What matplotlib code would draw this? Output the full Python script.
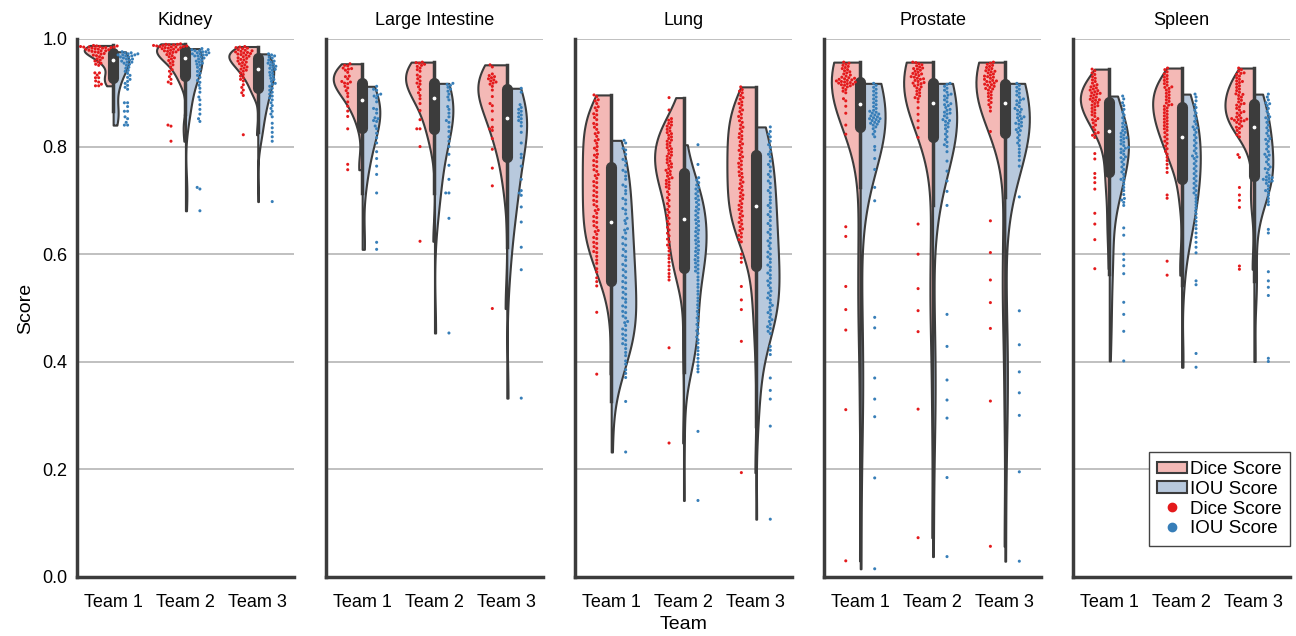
import numpy as np
import pandas as pd
import matplotlib
matplotlib.use("Agg")
import matplotlib.pyplot as plt
import seaborn as sns
from matplotlib.patches import Patch
from matplotlib.lines import Line2D

organs = ["Kidney", "Large Intestine", "Lung", "Prostate", "Spleen"]
teams = ["Team 1", "Team 2", "Team 3"]
metrics = ["Dice Score", "IOU Score"]

kidney = [
    [988, 987, 987, 986, 986, 985, 985, 985, 984, 984, 983, 983, 982, 981, 981, 980, 979, 978, 978, 977,
     976, 975, 973, 972, 970, 969, 967, 965, 963, 961, 959, 957, 955, 953, 951, 937, 937, 933, 928, 928,
     922, 920, 916, 913, 913],
    [991, 990, 990, 989, 989, 988, 988, 987, 987, 986, 986, 985, 985, 984, 984, 983, 982, 981, 980, 979,
     978, 977, 976, 975, 973, 971, 969, 967, 965, 963, 960, 958, 955, 952, 948, 943, 940, 935, 930, 925,
     920, 917, 840, 838, 810],
    [986, 985, 984, 983, 982, 980, 979, 978, 977, 976, 975, 974, 973, 972, 971, 970, 968, 967, 965, 964,
     962, 961, 959, 957, 956, 954, 952, 950, 948, 946, 944, 942, 940, 937, 934, 931, 928, 925, 922, 915,
     910, 905, 900, 895, 822],
]
large_intestine = [
    [954, 951, 950, 946, 945, 944, 942, 938, 931, 930, 926, 921, 920, 918, 917, 912, 909, 904, 899, 893,
     883, 875, 866, 856, 833, 767, 757],
    [957, 956, 955, 953, 951, 949, 946, 943, 940, 933, 930, 926, 922, 918, 916, 911, 906, 900, 895, 889,
     880, 867, 850, 833, 833, 800, 624],
    [952, 948, 935, 932, 930, 928, 926, 924, 922, 920, 918, 916, 912, 905, 893, 880, 876, 866, 850, 836,
     833, 830, 815, 795, 760, 727, 499],
]
lung = [
    [896, 893, 887, 885, 880, 874, 872, 867, 861, 859, 854, 850, 843, 841, 836, 832, 826, 824, 819, 813,
     811, 806, 800, 797, 793, 786, 784, 780, 774, 772, 765, 763, 757, 754, 748, 746, 741, 735, 733, 727,
     724, 718, 715, 709, 707, 700, 698, 692, 689, 683, 681, 676, 670, 668, 661, 659, 653, 650, 644, 642,
     637, 631, 629, 622, 620, 614, 611, 605, 603, 596, 589, 583, 573, 567, 556, 549, 541, 492, 377],
    [891, 868, 852, 849, 846, 843, 840, 838, 835, 832, 829, 826, 824, 821, 818, 815, 812, 810, 807, 804,
     801, 798, 796, 793, 790, 787, 784, 782, 779, 776, 773, 770, 768, 765, 762, 759, 756, 754, 751, 748,
     745, 742, 740, 737, 734, 731, 728, 725, 722, 716, 711, 705, 700, 694, 689, 683, 678, 672, 667, 661,
     656, 650, 645, 639, 634, 628, 623, 617, 612, 606, 598, 592, 585, 578, 571, 564, 558, 552, 426, 249],
    [911, 906, 903, 900, 895, 891, 888, 883, 880, 877, 872, 868, 865, 860, 856, 853, 848, 845, 840, 836,
     833, 828, 824, 820, 817, 814, 809, 805, 802, 797, 793, 790, 785, 781, 778, 773, 769, 766, 762, 758,
     753, 750, 746, 743, 738, 734, 731, 726, 722, 719, 714, 710, 707, 703, 699, 694, 691, 687, 683, 680,
     675, 671, 668, 663, 659, 656, 651, 647, 644, 639, 635, 632, 627, 623, 600, 593, 585, 540, 515, 497,
     438, 194],
]
prostate = [
    [957, 955, 953, 951, 949, 947, 945, 943, 941, 939, 937, 935, 933, 931, 929, 928, 927, 926, 925, 924,
     923, 922, 921, 920, 920, 919, 918, 917, 916, 915, 914, 913, 911, 909, 906, 903, 900, 889, 885, 875,
     862, 840, 823, 651, 633, 540, 497, 459, 311, 30],
    [957, 956, 954, 952, 950, 948, 946, 945, 944, 942, 940, 938, 936, 935, 934, 932, 930, 929, 927, 926,
     925, 923, 921, 919, 918, 917, 915, 913, 911, 909, 906, 903, 900, 897, 894, 891, 889, 883, 872, 860,
     848, 835, 817, 656, 600, 536, 495, 456, 312, 73],
    [957, 955, 953, 951, 949, 947, 945, 943, 941, 940, 939, 937, 935, 933, 931, 930, 929, 927, 925, 923,
     922, 921, 920, 918, 916, 915, 914, 912, 910, 908, 907, 905, 902, 899, 896, 893, 890, 886, 882, 878,
     873, 866, 828, 662, 603, 552, 510, 462, 327, 57],
]
spleen = [
    [944, 941, 937, 934, 930, 927, 924, 921, 918, 915, 913, 911, 909, 907, 905, 904, 902, 900, 899, 898,
     896, 894, 892, 890, 888, 887, 886, 884, 882, 880, 877, 876, 874, 871, 868, 865, 862, 859, 856, 852,
     850, 848, 844, 840, 836, 831, 826, 824, 821, 817, 787, 777, 750, 742, 733, 721, 676, 656, 627, 573],
    [946, 943, 939, 935, 932, 929, 926, 923, 920, 917, 914, 911, 910, 908, 905, 902, 899, 896, 893, 890,
     887, 884, 881, 878, 877, 875, 872, 869, 866, 863, 860, 857, 854, 851, 848, 845, 842, 839, 836, 833,
     830, 826, 822, 818, 814, 810, 806, 801, 796, 791, 786, 780, 774, 767, 760, 752, 710, 704, 587, 561],
    [946, 943, 940, 937, 936, 934, 931, 928, 925, 922, 921, 919, 916, 913, 910, 907, 904, 901, 898, 897,
     895, 892, 889, 886, 883, 880, 879, 877, 874, 871, 868, 865, 863, 862, 858, 855, 853, 852, 851, 850,
     849, 848, 847, 845, 842, 838, 836, 834, 830, 826, 822, 818, 785, 780, 724, 710, 700, 687, 578, 572],
]
dice_by_organ = {"Kidney": kidney, "Large Intestine": large_intestine, "Lung": lung,
                 "Prostate": prostate, "Spleen": spleen}

fill_colors = ["#f4b9b6", "#b8c9dd"]
point_colors = ["#e41a1c", "#377eb8"]
gray = "#3c3c3c"


def kde(vals, grid):
    bw = vals.std(ddof=1) * len(vals) ** -0.2
    z = (grid[:, None] - vals[None, :]) / bw
    return np.exp(-0.5 * z ** 2).sum(axis=1) / (len(vals) * bw * np.sqrt(2 * np.pi))


plt.rcParams["font.family"] = ["Liberation Sans", "DejaVu Sans"]
fig, axes = plt.subplots(1, 5, figsize=(12.96, 6.36), dpi=100, sharey=True)
fig.subplots_adjust(left=0.0594, right=0.9954, bottom=0.0928, top=0.9387, wspace=0.148)

for ax, organ in zip(axes, organs):
    rows = []
    for i, team in enumerate(teams):
        d = np.array(dice_by_organ[organ][i]) / 1000
        iou = d / (2 - d)  # per-image IoU follows from Dice
        halves = []
        for m, v in zip(metrics, (d, iou)):
            grid = np.linspace(v.min(), v.max(), 100)
            halves.append((grid, kde(v, grid)))
            rows += [(team, m, x) for x in v]
        # split violin, both halves scaled by the larger peak of the pair
        peak = max(h[1].max() for h in halves)
        for k, (grid, dens) in enumerate(halves):
            side = -1 if k == 0 else 1
            ax.fill_betweenx(grid, i, i + side * dens / peak * 0.4, facecolor=fill_colors[k],
                             edgecolor=gray, linewidth=1.5, zorder=2)
    df = pd.DataFrame(rows, columns=["team", "metric", "score"])

    # inner box from both metrics together
    for i, team in enumerate(teams):
        v = df.loc[df.team == team, "score"].values
        q1, q2, q3 = np.percentile(v, [25, 50, 75])
        lim = 1.5 * (q3 - q1)
        lo = v[v >= q1 - lim].min()
        hi = v[v <= q3 + lim].max()
        ax.plot([i, i], [lo, hi], color=gray, linewidth=2.5, zorder=3)
        ax.plot([i, i], [q1, q3], color=gray, linewidth=8, solid_capstyle="round", zorder=3)
        ax.scatter(i, q2, s=3, color="white", zorder=4)

    sns.swarmplot(data=df, x="team", y="score", hue="metric", order=teams, hue_order=metrics,
                  dodge=True, palette=point_colors, size=2.2, linewidth=0, ax=ax,
                  legend=False, zorder=5)

    ax.set_xlim(-0.5, 2.5)
    ax.set_ylim(0, 1.0)
    ax.set_yticks([0, 0.2, 0.4, 0.6, 0.8, 1.0])
    ax.set_title(organ, fontsize=13, pad=10)
    ax.set_xlabel("")
    ax.set_ylabel("")
    ax.yaxis.grid(True, color="#b5b5b5", linewidth=1.2)
    ax.xaxis.grid(False)
    ax.set_axisbelow(True)
    ax.spines[["top", "right"]].set_visible(False)
    for s in ["left", "bottom"]:
        ax.spines[s].set_linewidth(2.5)
        ax.spines[s].set_color(gray)
    ax.tick_params(axis="both", length=0, labelsize=13)
    ax.tick_params(axis="x", pad=12)
    ax.tick_params(axis="y", pad=7)

axes[0].set_ylabel("Score", fontsize=14, labelpad=6)
axes[2].set_xlabel("Team", fontsize=14, labelpad=4)

handles = [
    Patch(facecolor=fill_colors[0], edgecolor=gray, linewidth=1.5, label="Dice Score"),
    Patch(facecolor=fill_colors[1], edgecolor=gray, linewidth=1.5, label="IOU Score"),
    Line2D([], [], marker="o", linestyle="", color=point_colors[0], markersize=6, label="Dice Score"),
    Line2D([], [], marker="o", linestyle="", color=point_colors[1], markersize=6, label="IOU Score"),
]
axes[-1].legend(handles=handles, loc="lower right", bbox_to_anchor=(1.0, 0.058), fontsize=13.5,
                frameon=True, fancybox=False, edgecolor="#444444", framealpha=1, borderaxespad=0,
                handlelength=1.6, handleheight=0.55, handletextpad=0.15, labelspacing=0.15,
                borderpad=0.45)

fig.savefig("out.png", dpi=100)
